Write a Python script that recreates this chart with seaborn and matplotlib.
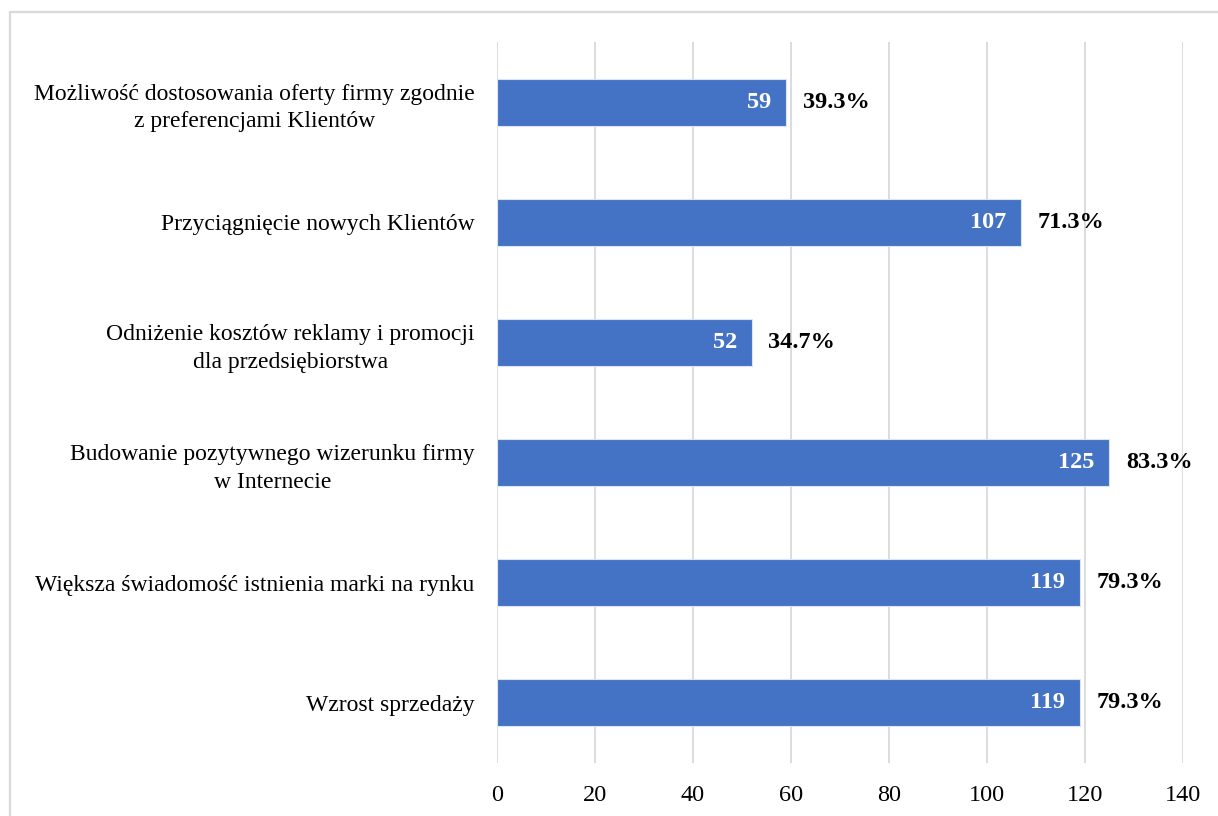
import numpy as np
import pandas as pd
import seaborn as sns
import matplotlib.pyplot as plt
from matplotlib.patches import Rectangle

categories = [
    "Możliwość dostosowania oferty firmy zgodnie\nz preferencjami Klientów",
    "Przyciągnięcie nowych Klientów",
    "Odniżenie kosztów reklamy i promocji\ndla przedsiębiorstwa",
    "Budowanie pozytywnego wizerunku firmy\nw Internecie",
    "Większa świadomość istnienia marki na rynku",
    "Wzrost sprzedaży",
]
counts = [59, 107, 52, 125, 119, 119]
percents = ["39.3%", "71.3%", "34.7%", "83.3%", "79.3%", "79.3%"]

df = pd.DataFrame({"kat": categories, "n": counts})

sns.set_theme(style="white")
plt.rcParams['font.family'] = ['Liberation Serif', 'DejaVu Serif']

fig = plt.figure(figsize=(12.18, 8.16), dpi=100)
ax = fig.add_axes([0.408, 0.065, 0.563, 0.8835])

sns.barplot(data=df, x="n", y="kat", orient="h", color="#4472C4", saturation=1,
            width=0.39, edgecolor="#dbe4f3", linewidth=0.8, ax=ax, zorder=3)

ax.set_xlim(0, 140)
ax.set_xticks(range(0, 141, 20))
ax.grid(axis="x", color="#d9d9d9", linewidth=1.3, zorder=0)
ax.set_axisbelow(True)
for s in ax.spines.values():
    s.set_visible(False)
ax.set_xlabel("")
ax.set_ylabel("")
ax.tick_params(axis="x", labelsize=17.5, length=0, pad=16, colors="black")
ax.tick_params(axis="y", labelsize=17, length=0, pad=16, colors="black")
for lab in ax.get_yticklabels():
    lab.set_horizontalalignment("right")
    lab.set_multialignment("center")
    lab.set_linespacing(1.42)

for i, (v, p) in enumerate(zip(counts, percents)):
    ax.text(v - 3, i, str(v), ha="right", va="center", color="white",
            fontsize=17.5, fontweight="bold")
    ax.text(v + 3.4, i, p, ha="left", va="center", color="black",
            fontsize=17.5, fontweight="bold")

fig.patches.append(Rectangle((0.0078, -0.01), 1.0, 0.9955, transform=fig.transFigure,
                             fill=False, edgecolor="#d9d9d9", linewidth=1.6))

fig.savefig("out.png", dpi=100, facecolor="white")
